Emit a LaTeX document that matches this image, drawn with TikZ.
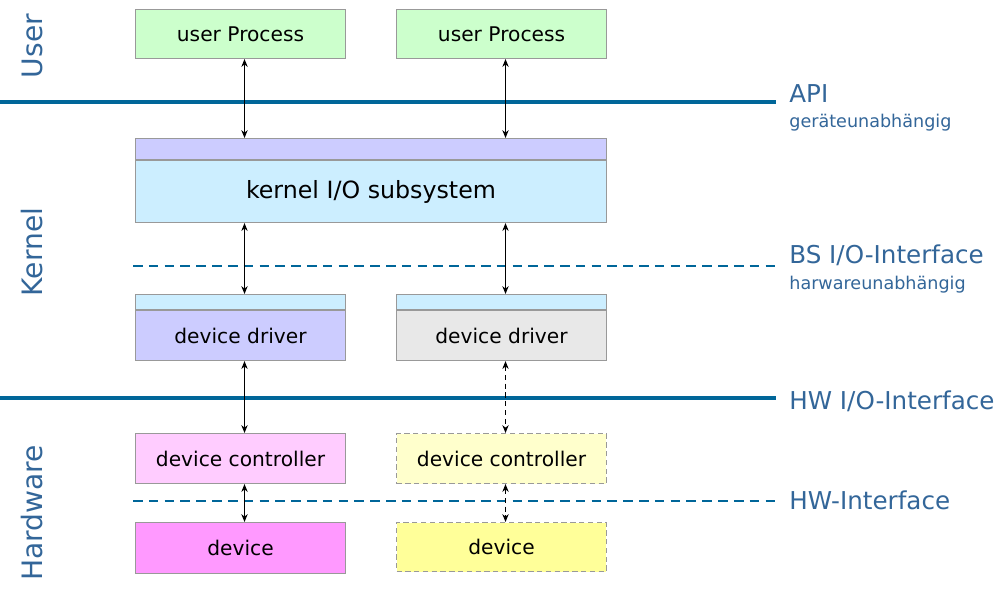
\documentclass[tikz,border=0pt]{standalone}
\usepackage{fontspec}
\setmainfont{DejaVu Sans}
\usetikzlibrary{positioning,arrows.meta}
\definecolor{layerblue}{HTML}{006699}
\definecolor{labelblue}{HTML}{336699}
\definecolor{boxgrey}{HTML}{999999}
\definecolor{procgreen}{HTML}{CCFFCC}
\definecolor{bandpurple}{HTML}{CCCCFF}
\definecolor{bandblue}{HTML}{CCEEFF}
\definecolor{drvgrey}{HTML}{E8E8E8}
\definecolor{ctrlpink}{HTML}{FFCCFF}
\definecolor{devpink}{HTML}{FF99FF}
\definecolor{ctrlyellow}{HTML}{FFFFCC}
\definecolor{devyellow}{HTML}{FFFF99}
\begin{document}
\begin{tikzpicture}[x=0.02cm, y=-0.02cm,
  box/.style = {draw=boxgrey, line width=0.6pt, anchor=north west,
    minimum width=4.2cm, minimum height=#1, inner sep=0pt,
    font=\fontsize{11.5}{13}\selectfont},
  box/.default = 0.98cm,
  optional/.style = {dash pattern=on 3pt off 2pt},
  layer/.style = {layerblue, line width=2.2pt},
  iface/.style = {layerblue, line width=1.1pt, dash pattern=on 5.5pt off 3.5pt},
  link/.style = {{Stealth[length=4.5pt,width=3.6pt]}-{Stealth[length=4.5pt,width=3.6pt]},
    line width=0.5pt},
  ifacename/.style = {labelblue, anchor=base west, inner sep=0pt,
    font=\fontsize{14}{16}\selectfont},
  ifacenote/.style = {labelblue, anchor=base west, inner sep=0pt,
    font=\fontsize{10}{12}\selectfont},
  layername/.style = {labelblue, anchor=base, rotate=90, font=\fontsize{16}{18}\selectfont}
  ]
  \useasboundingbox (0,0) rectangle (1000,591);

  % layer borders
  \draw[layer] (0,102) -- (776,102);
  \draw[layer] (0,398) -- (776,398);
  \draw[iface] (133,266) -- (776,266);
  \draw[iface] (133,501) -- (776,501);

  % layer names
  \node[layername] (user) at (42,46) {User};
  \node[layername] (kernel) at (42,252) {Kernel};
  \node[layername] (hardware) at (42,513) {Hardware};

  % interface names
  \node[ifacename] (api) at (789,103) {API};
  \node[ifacenote] (apinote) at (789,128) {geräteunabhängig};
  \node[ifacename] (bsio) at (789,263) {BS I/O-Interface};
  \node[ifacenote] (bsionote) at (789,289) {harwareunabhängig};
  \node[ifacename] (hwio) at (789,409) {HW I/O-Interface};
  \node[ifacename] (hwif) at (789,509) {HW-Interface};

  % user processes
  \node[box, fill=procgreen] (procA) at (135,9) {user Process};
  \node[box, fill=procgreen] (procB) at (396,9) {user Process};

  % kernel I/O subsystem
  \node[box=0.42cm, minimum width=9.42cm, fill=bandpurple] (kioband) at (135,138) {};
  \node[box=1.24cm, minimum width=9.42cm, fill=bandblue, below=0pt of kioband,
    font=\fontsize{13.5}{15}\selectfont] (kio) {kernel I/O subsystem};

  % device drivers
  \node[box=0.3cm, fill=bandblue] (drvAband) at (135,294) {};
  \node[box=1cm, fill=bandpurple, below=0pt of drvAband] (drvA) {device driver};
  \node[box=0.3cm, fill=bandblue] (drvBband) at (396,294) {};
  \node[box=1cm, fill=drvgrey, below=0pt of drvBband] (drvB) {device driver};

  % controllers and devices
  \node[box=1cm, fill=ctrlpink] (ctrlA) at (135,433) {device controller};
  \node[box=1.02cm, fill=devpink] (devA) at (135,522) {device};
  \node[box=1cm, fill=ctrlyellow, optional] (ctrlB) at (396,433) {device controller};
  \node[box, fill=devyellow, optional] (devB) at (396,522) {device};

  % links
  \draw[link] ([xshift=0.08cm]procA.south) -- ([xshift=0.08cm]procA.south |- kioband.north);
  \draw[link] ([xshift=0.08cm]procB.south) -- ([xshift=0.08cm]procB.south |- kioband.north);
  \draw[link] ([xshift=0.08cm]drvAband.north |- kio.south) -- ([xshift=0.08cm]drvAband.north);
  \draw[link] ([xshift=0.08cm]drvBband.north |- kio.south) -- ([xshift=0.08cm]drvBband.north);
  \draw[link] ([xshift=0.08cm]drvA.south) -- ([xshift=0.08cm]ctrlA.north);
  \draw[link, optional] ([xshift=0.08cm]drvB.south) -- ([xshift=0.08cm]ctrlB.north);
  \draw[link] ([xshift=0.08cm]ctrlA.south) -- ([xshift=0.08cm]devA.north);
  \draw[link, optional] ([xshift=0.08cm]ctrlB.south) -- ([xshift=0.08cm]devB.north);
\end{tikzpicture}
\end{document}
